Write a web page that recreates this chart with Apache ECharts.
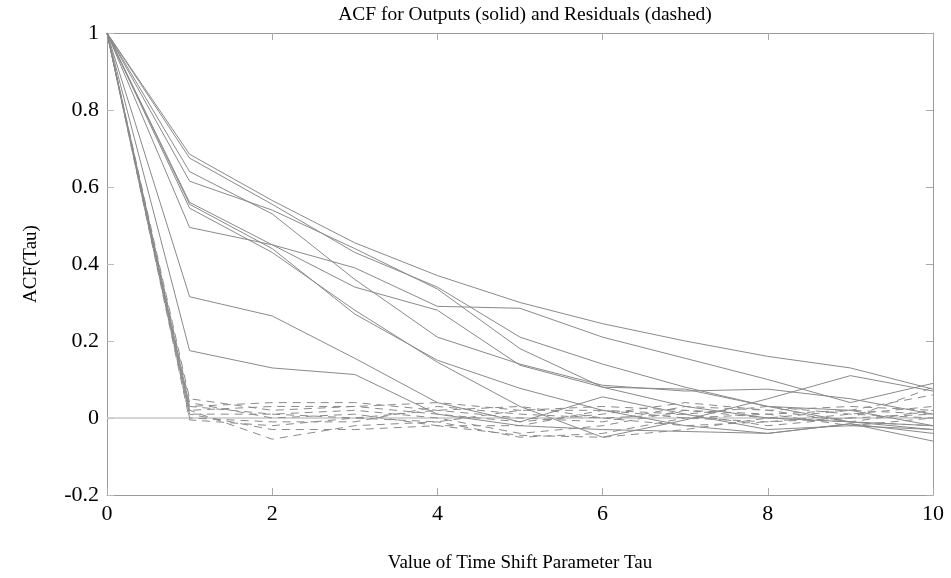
<!DOCTYPE html>
<html>
<head>
<meta charset="utf-8">
<script src="https://cdn.jsdelivr.net/npm/echarts@6/dist/echarts.min.js"></script>
<style>html,body{margin:0;padding:0;background:#fff}#c{width:951px;height:578px}</style>
</head>
<body>
<div id="c"></div>
<script>
var titleText = 'ACF for Outputs (solid) and Residuals (dashed)';
var xName = 'Value of Time Shift Parameter Tau';
var yName = 'ACF(Tau)';
var lags = [0, 1, 2, 3, 4, 5, 6, 7, 8, 9, 10];

var outputs1 = [1, 0.685, 0.565, 0.455, 0.37, 0.30, 0.245, 0.20, 0.16, 0.13, 0.075];
var outputs2 = [1, 0.675, 0.555, 0.43, 0.34, 0.21, 0.14, 0.08, 0.03, -0.01, -0.02];
var outputs3 = [1, 0.64, 0.53, 0.36, 0.21, 0.14, 0.085, 0.07, 0.075, 0.05, 0.01];
var outputs4 = [1, 0.615, 0.54, 0.44, 0.335, 0.18, 0.08, 0.03, 0.0, -0.01, -0.03];
var outputs5 = [1, 0.56, 0.45, 0.34, 0.28, 0.137, 0.08, 0.075, 0.03, 0.02, -0.02];
var outputs6 = [1, 0.555, 0.44, 0.27, 0.15, 0.077, 0.02, -0.02, -0.04, -0.015, -0.06];
var outputs7 = [1, 0.545, 0.43, 0.28, 0.145, 0.03, -0.05, -0.005, 0.05, 0.11, 0.07];
var outputs8 = [1, 0.495, 0.45, 0.39, 0.29, 0.285, 0.21, 0.155, 0.10, 0.04, 0.09];
var outputs9 = [1, 0.315, 0.265, 0.155, 0.04, -0.01, 0.055, 0.01, -0.03, -0.02, -0.03];
var outputs10 = [1, 0.175, 0.13, 0.113, 0.01, -0.02, -0.03, -0.035, -0.04, -0.015, -0.04];

var resid1 = [1, 0.05, 0.02, 0.03, 0.04, 0.02, 0.03, 0.02, 0.01, 0.02, 0.06];
var resid2 = [1, 0.03, 0.04, 0.04, 0.02, 0.0, -0.01, 0.03, 0.02, 0.03, 0.02];
var resid3 = [1, 0.02, -0.055, -0.02, -0.01, -0.05, -0.04, 0.0, 0.01, -0.02, 0.0];
var resid4 = [1, 0.01, 0.01, 0.02, 0.0, -0.04, -0.02, 0.02, 0.0, -0.01, -0.02];
var resid5 = [1, 0.0, -0.01, -0.01, 0.03, 0.01, 0.0, -0.02, -0.01, 0.01, 0.03];
var resid6 = [1, 0.04, 0.0, 0.01, -0.02, -0.02, 0.02, 0.01, -0.02, 0.0, 0.01];
var resid7 = [1, -0.005, -0.02, 0.0, 0.02, 0.03, 0.0, 0.01, 0.03, 0.01, 0.0];
var resid8 = [1, 0.02, 0.03, 0.03, 0.01, -0.01, 0.01, 0.04, 0.02, -0.01, 0.02];
var resid9 = [1, 0.01, -0.03, -0.03, -0.02, -0.045, -0.05, -0.03, 0.0, 0.02, 0.01];
var resid10 = [1, 0.03, 0.01, 0.0, -0.01, 0.02, 0.02, 0.0, -0.01, 0.0, 0.08];

var zeroLine = [0, 0, 0, 0, 0, 0, 0, 0, 0, 0, 0];

var outputs = [outputs1, outputs2, outputs3, outputs4, outputs5, outputs6, outputs7, outputs8, outputs9, outputs10];
var resids = [resid1, resid2, resid3, resid4, resid5, resid6, resid7, resid8, resid9, resid10];

function pairs(arr) { return lags.map(function (x, i) { return [x, arr[i]]; }); }

var FONT = '"Liberation Serif", "DejaVu Serif", serif';
var series = [];
series.push({
  type: 'line', data: pairs(zeroLine), symbol: 'none', silent: true,
  lineStyle: { color: '#c8c8c8', width: 1.5 }, z: 1
});
outputs.forEach(function (a) {
  series.push({ type: 'line', data: pairs(a), symbol: 'none', lineStyle: { color: '#8a8a8a', width: 1 }, z: 2 });
});
resids.forEach(function (a, i) {
  series.push({ type: 'line', data: pairs(a), symbol: 'none',
    lineStyle: { color: '#8a8a8a', width: 1, type: [8, 6], dashOffset: (i * 4.3) % 14 }, z: 2 });
});

var axisLineStyle = { show: true, onZero: false, lineStyle: { color: '#999', width: 1 } };

var chart = echarts.init(document.getElementById('c'), null, { renderer: 'canvas' });
chart.setOption({
  animation: false,
  backgroundColor: '#fff',
  title: {
    text: titleText, left: 520, top: 0, textAlign: 'center',
    textStyle: { fontFamily: FONT, fontSize: 19.5, fontWeight: 'normal', color: '#000' }
  },
  grid: { left: 107, right: 18, top: 33, bottom: 81 },
  xAxis: [{
    type: 'value', min: 0, max: 10, interval: 2, position: 'bottom',
    name: xName, nameLocation: 'middle', nameGap: 59,
    nameTextStyle: { fontFamily: FONT, fontSize: 19, color: '#000' },
    axisLine: axisLineStyle,
    axisTick: { show: true, inside: true, length: 7, lineStyle: { color: '#aaa' } },
    axisLabel: { fontFamily: FONT, fontSize: 22, color: '#000', margin: 8 },
    splitLine: { show: false }
  }, {
    type: 'value', min: 0, max: 10, interval: 2, position: 'top',
    axisLine: axisLineStyle,
    axisTick: { show: true, inside: true, length: 7, lineStyle: { color: '#aaa' } },
    axisLabel: { show: false }, splitLine: { show: false }
  }],
  yAxis: [{
    type: 'value', min: -0.2, max: 1, interval: 0.2, position: 'left',
    name: yName, nameLocation: 'middle', nameGap: 66, nameRotate: 90,
    nameTextStyle: { fontFamily: FONT, fontSize: 19, color: '#000' },
    axisLine: axisLineStyle,
    axisTick: { show: true, inside: true, length: 7, lineStyle: { color: '#bbb' } },
    axisLabel: {
      fontFamily: FONT, fontSize: 22, color: '#000', margin: 8,
      formatter: function (v) { return String(Number(v.toFixed(1))); }
    },
    splitLine: { show: false }
  }, {
    type: 'value', min: -0.2, max: 1, interval: 0.2, position: 'right',
    axisLine: axisLineStyle,
    axisTick: { show: true, inside: true, length: 7, lineStyle: { color: '#aaa' } },
    axisLabel: { show: false }, splitLine: { show: false }
  }],
  series: series
});
</script>
</body>
</html>
